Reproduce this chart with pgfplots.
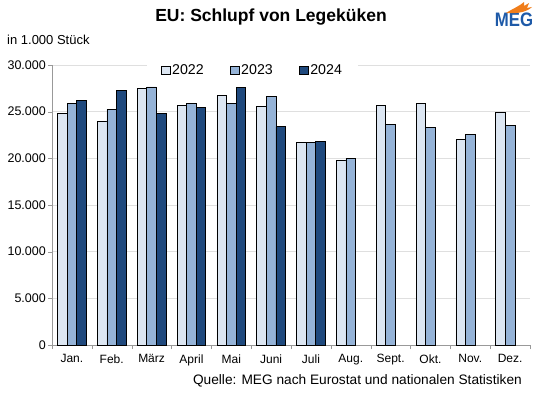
\documentclass[border=0pt]{standalone}
\usepackage{pgfplots}
\pgfplotsset{compat=1.18}
\usepackage{fontspec}
\setmainfont{Liberation Sans}
\definecolor{cA}{HTML}{DCE6F2}
\definecolor{cB}{HTML}{95B3D7}
\definecolor{cC}{HTML}{1F497D}
\definecolor{megblue}{HTML}{1E5AA8}
\definecolor{megorange}{HTML}{F07D1A}
\begin{document}
\begin{tikzpicture}[x=1pt,y=1pt]
\path[use as bounding box] (0,0) rectangle (538,394);
\begin{axis}[
  at={(52pt,49pt)}, anchor=south west, scale only axis,
  width=478pt, height=280pt,
  xmin=-0.5, xmax=11.5, ymin=0, ymax=30000,
  ybar=0pt, bar width=0.24,
  axis x line*=bottom, axis y line*=left,
  axis line style={draw=gray!80,-},
  xtick={0,...,11},
  xticklabels={Jan.,Feb.,März,April,Mai,Juni,Juli,Aug.,Sept.,Okt.,Nov.,Dez.},
  major x tick style={draw=none},
  minor xtick={-0.5,0.5,...,11.5},
  minor x tick style={draw=gray!80},
  minor tick length=4pt,
  ytick={0,5000,...,30000},
  major y tick style={draw=gray!80},
  major tick length=4pt,
  tick align=outside,
  ymajorgrids, grid style={draw=gray!25, line width=0.8pt},
  scaled y ticks=false,
  yticklabel style={/pgf/number format/fixed, /pgf/number format/1000 sep={.}, /pgf/number format/assume math mode=true, font=\fontsize{12.5}{14}\selectfont, inner xsep=2pt},
  xticklabel style={font=\fontsize{12}{14}\selectfont, yshift=-2pt},
  tick label style={text=black},
  legend columns=3,
  legend style={at={(0.419,0.982)}, anchor=center, draw=none, fill=white,
    font=\fontsize{14.2}{16}\selectfont, inner xsep=14pt, inner ysep=1pt,
    /tikz/every even column/.append style={column sep=24pt},
    /tikz/every odd column/.append style={column sep=0pt}},
  sqleg/.style={legend image code/.code={\draw[##1, draw=black, line width=0.5pt] (0pt,-4pt) rectangle (9pt,4pt);}},
]
\addplot[fill=cA, draw=black, line width=0.7pt, bar shift=-0.24, sqleg] coordinates {
 (0,24800) (1,24000) (2,27500) (3,25700) (4,26700) (5,25600) (6,21750) (7,19800) (8,25700) (9,25900) (10,22000) (11,24900)};
\addplot[fill=cB, draw=black, line width=0.7pt, bar shift=0, sqleg] coordinates {
 (0,25900) (1,25250) (2,27650) (3,25900) (4,25900) (5,26600) (6,21750) (7,20000) (8,23600) (9,23300) (10,22600) (11,23500)};
\addplot[fill=cC, draw=black, line width=0.7pt, bar shift=0.24, sqleg] coordinates {
 (0,26200) (1,27300) (2,24800) (3,25500) (4,27600) (5,23400) (6,21850)};
\legend{2022,2023,2024}
\end{axis}
\node[font=\fontsize{17.5}{20}\selectfont\bfseries] at (271,377) {EU: Schlupf von Legeküken};
\node[anchor=west, inner sep=0pt, font=\fontsize{13}{15}\selectfont] at (7,354) {in 1.000 Stück};
\node[anchor=east, inner sep=0pt, font=\fontsize{13.7}{15}\selectfont] at (522,13) {Quelle: MEG nach Eurostat und nationalen Statistiken};
\node[font=\fontsize{19.5}{22}\selectfont\bfseries, text=megblue, xscale=0.86, inner sep=0pt] at (514,374) {MEG};
\fill[megorange] (506,381) .. controls (512,385) and (518,387) .. (524,392) -- (524,388) -- (529,391) -- (527,386) -- (532,387) .. controls (527,382) and (517,380) .. (506,381) -- cycle;
\end{tikzpicture}
\end{document}
